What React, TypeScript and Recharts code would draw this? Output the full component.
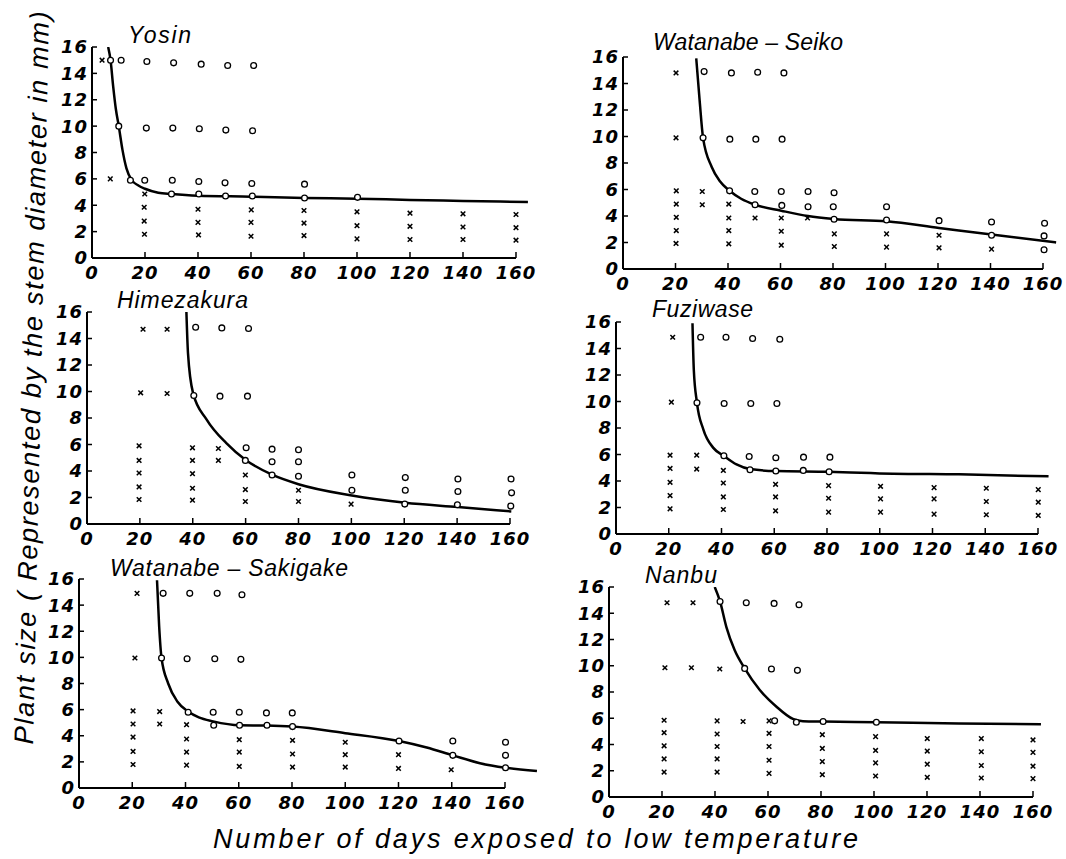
import React from 'react';
import { ComposedChart, Line, Scatter, XAxis, YAxis, ReferenceLine } from 'recharts';

type P = [number, number];

// ---- Tick labels ----
const xTicks = [0, 20, 40, 60, 80, 100, 120, 140, 160];
const yTicks = [0, 2, 4, 6, 8, 10, 12, 14, 16];

// ---- Yosin ----
const yosinCircles: P[] = [
  [7, 15], [11, 15], [20.7, 14.9], [30.8, 14.8], [41.2, 14.7], [51.2, 14.6], [61, 14.6],
  [10.1, 10], [20.5, 9.85], [30.5, 9.85], [40.5, 9.8], [50.5, 9.7], [60.6, 9.65],
  [14.5, 5.9], [19.9, 5.9], [30.3, 5.9], [40.3, 5.8], [50.2, 5.7], [60.3, 5.65], [80.2, 5.6],
  [30, 4.85], [40.3, 4.85], [50.4, 4.7], [60.5, 4.7], [80.2, 4.55], [100.2, 4.6],
];
const yosinCrosses: P[] = [
  [3.8, 15], [6.9, 6], [19.9, 4.85], [19.7, 3.85], [19.7, 2.8], [19.8, 1.8],
  [40, 3.7], [40, 2.7], [40.2, 1.75], [60.1, 3.65], [60, 2.7], [60, 1.65],
  [80, 3.6], [80, 2.65], [80, 1.7], [100, 3.5], [100, 2.45], [100, 1.45],
  [120, 3.4], [120, 2.4], [120, 1.4], [140, 3.35], [140, 2.35], [140, 1.4],
  [160, 3.3], [160, 2.3], [160, 1.35],
];
const yosinCurve: P[] = [
  [6.1, 16], [7, 15], [8, 13], [9, 11.3], [10.1, 10], [11.5, 8.2], [13, 6.8], [15, 5.9],
  [17.5, 5.5], [20, 5.25], [25, 4.95], [30, 4.85], [40, 4.72], [60, 4.65], [80, 4.55],
  [100, 4.5], [120, 4.4], [140, 4.33], [164.5, 4.25],
];

// ---- Watanabe-Seiko ----
const seikoCircles: P[] = [
  [30.9, 14.9], [41.3, 14.8], [51.3, 14.85], [61.3, 14.8],
  [30.5, 9.9], [40.7, 9.8], [50.6, 9.8], [60.6, 9.8],
  [40.6, 5.9], [50.2, 5.85], [60.3, 5.85], [70.5, 5.85], [80.4, 5.75],
  [50.3, 4.85], [60.5, 4.8], [70.5, 4.7], [80.1, 4.7], [100.4, 4.7],
  [80.4, 3.75], [100.4, 3.7], [120.4, 3.65], [140.4, 3.55], [160.6, 3.45],
  [140.4, 2.55], [160.4, 2.5], [160.4, 1.45],
];
const seikoCrosses: P[] = [
  [20.2, 14.8], [20.2, 9.9], [20.3, 5.9], [20.3, 4.9], [20.3, 3.9], [20.3, 2.9], [20.2, 1.93],
  [30.2, 5.85], [30.2, 4.85], [40.3, 4.9], [40.3, 3.85], [40.3, 2.9], [40.3, 1.9],
  [50.3, 3.85], [60.3, 3.85], [60.3, 2.85], [60.3, 1.8], [70.3, 3.85],
  [80.5, 2.65], [80.5, 1.7], [100.4, 2.65], [100.4, 1.65], [120.4, 2.55], [120.4, 1.6], [140.4, 1.5],
];
const seikoCurve: P[] = [
  [27.9, 15.9], [29.2, 12.7], [30.5, 9.9], [33.8, 7.7], [37, 6.6], [40.6, 5.9], [45, 5.3],
  [50.3, 4.85], [60.3, 4.4], [70.5, 4.0], [80.4, 3.78], [100.4, 3.6], [120.4, 3.1],
  [140.4, 2.6], [165, 2.0],
];

// ---- Himezakura ----
const himeCircles: P[] = [
  [41.1, 14.85], [51, 14.8], [61.1, 14.75], [40.4, 9.7], [50.3, 9.65], [60.7, 9.65],
  [60.2, 5.75], [70, 5.65], [80, 5.6], [59.9, 4.8], [70, 4.7], [80, 4.7],
  [70, 3.7], [80, 3.6], [100.2, 3.7], [100.2, 2.55], [120.4, 3.5], [120.4, 2.55], [120.2, 1.5],
  [140.3, 3.4], [140.3, 2.45], [140.1, 1.45], [160.4, 3.4], [160.6, 2.35], [160.3, 1.35],
];
const himeCrosses: P[] = [
  [21.2, 14.7], [30.3, 14.7], [20.3, 9.9], [30.3, 9.85],
  [19.7, 5.9], [19.7, 4.8], [19.7, 3.85], [19.7, 2.8], [19.7, 1.85],
  [39.9, 5.75], [39.9, 4.8], [39.9, 3.8], [39.9, 2.7], [39.9, 1.8],
  [49.7, 5.7], [49.7, 4.8], [59.9, 3.7], [59.9, 2.6], [59.9, 1.7],
  [80, 2.55], [80, 1.7], [99.9, 1.5],
];
const himeCurve: P[] = [
  [37.6, 16], [38.2, 12.9], [40.1, 9.9], [45.2, 7.9], [52.7, 6.1], [59.9, 4.85], [70, 3.72],
  [80, 3.0], [100.2, 2.15], [120.4, 1.6], [140.3, 1.28], [160.5, 0.95],
];

// ---- Fuziwase ----
const fuziCircles: P[] = [
  [32.1, 14.85], [41.7, 14.85], [51.8, 14.75], [62.1, 14.7],
  [30.7, 9.9], [41, 9.85], [51.1, 9.85], [61, 9.85],
  [40.9, 5.9], [50.5, 5.85], [60.6, 5.75], [71.1, 5.8], [81.1, 5.8],
  [50.8, 4.85], [60.6, 4.75], [71, 4.8], [80.8, 4.7],
];
const fuziCrosses: P[] = [
  [21.5, 14.85], [21, 9.95], [20.5, 5.95], [20.5, 4.95], [20.5, 3.9], [20.5, 2.9], [20.5, 1.9],
  [30.6, 5.95], [30.6, 4.9], [40.7, 4.8], [40.7, 3.85], [40.7, 2.8], [40.7, 1.85],
  [60.5, 3.75], [60.5, 2.8], [60.5, 1.75], [80.6, 3.65], [80.6, 2.7], [80.6, 1.65],
  [100.3, 3.6], [100.3, 2.65], [100.3, 1.65], [120.6, 3.5], [120.6, 2.65], [120.6, 1.5],
  [140.4, 3.45], [140.4, 2.45], [140.4, 1.45], [160.1, 3.35], [160.1, 2.4], [160.1, 1.4],
];
const fuziCurve: P[] = [
  [29, 15.9], [29.5, 12.4], [30.7, 9.9], [33.1, 7.9], [36.9, 6.5], [40.9, 5.9], [45.7, 5.25],
  [50.8, 4.9], [60.6, 4.75], [80.8, 4.7], [105, 4.55], [130, 4.5], [164, 4.35],
];

// ---- Watanabe-Sakigake ----
const sakiCircles: P[] = [
  [31.6, 14.9], [41.6, 14.9], [51.9, 14.9], [61.2, 14.8],
  [31, 9.95], [40.6, 9.9], [51, 9.9], [60.8, 9.85],
  [41, 5.8], [50.4, 5.8], [60.2, 5.8], [70.4, 5.75], [80.1, 5.75],
  [50.6, 4.8], [60.3, 4.8], [70.6, 4.8], [80.2, 4.7],
  [120.2, 3.6], [140.4, 3.6], [140.4, 2.5], [160.2, 3.5], [160.2, 2.5], [160.2, 1.55],
];
const sakiCrosses: P[] = [
  [21.8, 14.9], [21, 9.95], [20.3, 5.9], [20.3, 4.9], [20.3, 3.9], [20.3, 2.8], [20.3, 1.8],
  [30.3, 5.85], [30.3, 4.9], [40.4, 4.85], [40.4, 3.75], [40.4, 2.75], [40.4, 1.75],
  [60.2, 3.7], [60.2, 2.75], [60.2, 1.65], [80.2, 3.65], [80.2, 2.6], [80.2, 1.6],
  [100, 3.5], [100, 2.55], [100, 1.6], [120, 2.55], [120, 1.5], [139.8, 1.4],
];
const sakiCurve: P[] = [
  [29.3, 15.9], [30.1, 12.4], [31, 9.95], [33.5, 8], [37, 6.6], [41, 5.85], [45, 5.4],
  [50.4, 5.1], [60.3, 4.8], [70.5, 4.78], [80.2, 4.7], [100, 4.2], [120.2, 3.6],
  [130.6, 3.1], [140.4, 2.5], [150.6, 1.9], [160.2, 1.55], [172, 1.3],
];

// ---- Nanbu ----
const nanbuCircles: P[] = [
  [41.9, 14.9], [51.8, 14.8], [62.3, 14.75], [71.7, 14.65],
  [51.2, 9.8], [61.3, 9.75], [71.1, 9.65],
  [62.5, 5.8], [70.7, 5.7], [80.8, 5.75], [100.9, 5.7],
];
const nanbuCrosses: P[] = [
  [21.9, 14.8], [31.7, 14.8], [21.1, 9.85], [31.1, 9.85], [41.8, 9.75],
  [20.8, 5.85], [20.8, 4.9], [20.8, 3.9], [20.8, 2.9], [20.8, 1.9],
  [40.8, 5.8], [40.8, 4.8], [40.8, 3.85], [40.8, 2.9], [40.8, 1.9],
  [50.6, 5.75], [60.4, 5.8], [60.4, 4.85], [60.4, 3.85], [60.4, 2.8], [60.4, 1.8],
  [80.5, 4.75], [80.5, 3.7], [80.5, 2.7], [80.5, 1.7],
  [100.6, 4.6], [100.6, 3.55], [100.6, 2.6], [100.6, 1.6],
  [120.1, 4.45], [120.1, 3.5], [120.1, 2.5], [120.1, 1.5],
  [140.5, 4.45], [140.5, 3.45], [140.5, 2.4], [140.5, 1.45],
  [160, 4.35], [160, 3.4], [160, 2.35], [160, 1.4],
];
const nanbuCurve: P[] = [
  [39.9, 16], [41.9, 14.9], [44.3, 12.95], [47.4, 11.2], [51.2, 9.8], [56.9, 8.15],
  [63.1, 6.9], [69.4, 5.95], [73.2, 5.78], [80.8, 5.75], [100.9, 5.7], [132, 5.6], [163, 5.55],
];

const toObj = (arr: P[]) => arr.map(([x, y]) => ({ x, y }));

const FONT = '"Liberation Sans", Arial, sans-serif';
const TICK_FONT = '"DejaVu Sans", sans-serif';

// layout: pixel positions of x=0, x=160, y=0, y=16 for each panel; title placement
const panels = [
  { name: 'Yosin', circles: yosinCircles, crosses: yosinCrosses, curve: yosinCurve,
    x0: 92, x160: 516, y0: 258, y16: 47, tx: 128, ty: 43, tw: 63 },
  { name: 'Watanabe – Seiko', circles: seikoCircles, crosses: seikoCrosses, curve: seikoCurve,
    x0: 623, x160: 1043, y0: 269, y16: 57, tx: 653, ty: 50, tw: 190 },
  { name: 'Himezakura', circles: himeCircles, crosses: himeCrosses, curve: himeCurve,
    x0: 87, x160: 510, y0: 524, y16: 312, tx: 117, ty: 308, tw: 131 },
  { name: 'Fuziwase', circles: fuziCircles, crosses: fuziCrosses, curve: fuziCurve,
    x0: 616, x160: 1038, y0: 534, y16: 322, tx: 652, ty: 317, tw: 101 },
  { name: 'Watanabe – Sakigake', circles: sakiCircles, crosses: sakiCrosses, curve: sakiCurve,
    x0: 79, x160: 505, y0: 788, y16: 579, tx: 110, ty: 576, tw: 238 },
  { name: 'Nanbu', circles: nanbuCircles, crosses: nanbuCrosses, curve: nanbuCurve,
    x0: 609, x160: 1033, y0: 797, y16: 587, tx: 645, ty: 583, tw: 72 },
];

const XMAX = 174;
const YW = 56;
const MT = 14;
const XH = 40;
const MR = 4;

const CircleShape = (props: any) => (
  <circle cx={props.cx} cy={props.cy} r={2.9} fill="#fff" stroke="#000" strokeWidth={1.3} />
);
const CrossShape = (props: any) => {
  const s = 2.3;
  const { cx, cy } = props;
  return (
    <g stroke="#000" strokeWidth={1.5}>
      <line x1={cx - s} y1={cy - s} x2={cx + s} y2={cy + s} />
      <line x1={cx - s} y1={cy + s} x2={cx + s} y2={cy - s} />
    </g>
  );
};

const XTick = (props: any) => (
  <text
    x={props.x}
    y={props.y}
    dy="0.72em"
    textAnchor="middle"
    fontFamily={TICK_FONT}
    fontSize={18}
    fontStyle="italic"
    fontWeight="bold"
    letterSpacing={1}
    fill="#000"
  >
    {props.payload.value}
  </text>
);
const YTick = (props: any) => (
  <text
    x={props.x}
    y={props.y}
    dy="0.36em"
    textAnchor="end"
    fontFamily={TICK_FONT}
    fontSize={18}
    fontStyle="italic"
    fontWeight="bold"
    letterSpacing={1}
    fill="#000"
  >
    {props.payload.value}
  </text>
);

function Panel({ p }: { p: (typeof panels)[number] }) {
  const ux = (p.x160 - p.x0) / 160;
  const plotW = XMAX * ux;
  const plotH = p.y0 - p.y16;
  const width = YW + plotW + MR;
  const height = MT + plotH + XH;
  return (
    <div style={{ position: 'absolute', left: p.x0 - YW, top: p.y16 - MT }}>
      <ComposedChart width={width} height={height} margin={{ top: MT, right: MR, left: 0, bottom: 0 }}>
        <XAxis
          type="number"
          dataKey="x"
          domain={[0, XMAX]}
          ticks={xTicks}
          interval={0}
          allowDataOverflow
          axisLine={false}
          tickLine={{ stroke: '#000', strokeWidth: 1.5 }}
          tickSize={-6}
          tickMargin={14}
          height={XH}
          tick={XTick}
        />
        <YAxis
          type="number"
          domain={[0, 16]}
          ticks={yTicks}
          interval={0}
          allowDataOverflow
          axisLine={{ stroke: '#000', strokeWidth: 2 }}
          tickLine={{ stroke: '#000', strokeWidth: 1.5 }}
          tickSize={-5}
          tickMargin={9}
          width={YW}
          tick={YTick}
        />
        <ReferenceLine
          segment={[{ x: 0, y: 0 }, { x: 160, y: 0 }]}
          stroke="#000"
          strokeWidth={2}
          ifOverflow="visible"
        />
        <Line
          data={toObj(p.curve)}
          dataKey="y"
          type="monotone"
          stroke="#000"
          strokeWidth={2.5}
          dot={false}
          isAnimationActive={false}
        />
        <Scatter data={toObj(p.crosses)} dataKey="y" shape={CrossShape} isAnimationActive={false} />
        <Scatter data={toObj(p.circles)} dataKey="y" shape={CircleShape} isAnimationActive={false} />
      </ComposedChart>
    </div>
  );
}

export default function App() {
  return (
    <div style={{ position: 'absolute', left: 0, top: 0, width: 1066, height: 859, background: '#fff', overflow: 'hidden' }}>
      {panels.map((p) => (
        <Panel key={p.name} p={p} />
      ))}
      <svg
        width={1066}
        height={859}
        style={{ position: 'absolute', left: 0, top: 0, pointerEvents: 'none' }}
        fontFamily={FONT}
        fontStyle="italic"
      >
        {panels.map((p) => (
          <text key={p.name} x={p.tx} y={p.ty} fontSize={23} fill="#000" textLength={p.tw} lengthAdjust="spacing">
            {p.name}
          </text>
        ))}
        <text
          transform="translate(41,378) rotate(-88.75)"
          textAnchor="middle"
          fontSize={27}
          fill="#000"
          textLength={733}
          lengthAdjust="spacing"
        >
          Plant size ( Represented by the stem diameter in mm)
        </text>
        <text x={213} y={848} fontSize={27} fill="#000" textLength={645} lengthAdjust="spacing">
          Number of days exposed to low temperature
        </text>
      </svg>
    </div>
  );
}
